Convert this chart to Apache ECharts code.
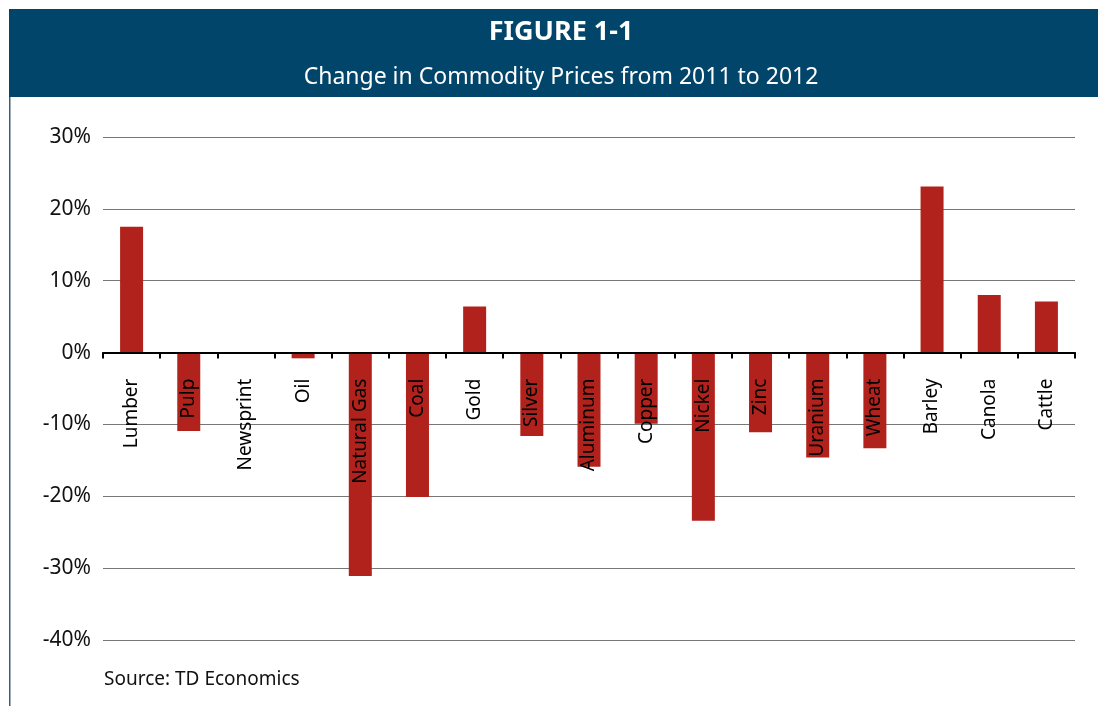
<!DOCTYPE html>
<html><head><meta charset="utf-8">
<script src="https://cdn.jsdelivr.net/npm/echarts@6/dist/echarts.min.js"></script>
<style>html,body{margin:0;padding:0;background:#fff;}#c{width:1098px;height:706px;}</style>
</head><body><div id="c"></div>
<script>
var categories = ["Lumber","Pulp","Newsprint","Oil","Natural Gas","Coal","Gold","Silver","Aluminum","Copper","Nickel","Zinc","Uranium","Wheat","Barley","Canola","Cattle"];
var changes = [17.5, -10.9, 0, -0.8, -31.1, -20.1, 6.4, -11.6, -15.9, -9.9, -23.4, -11.1, -14.6, -13.3, 23.1, 8.0, 7.1];
var titleText = "FIGURE 1-1";
var subtitleText = "Change in Commodity Prices from 2011 to 2012";
var sourceText = "Source: TD Economics";
var yMin = -40, yMax = 30;
var FONT = "'Noto Sans', sans-serif";
var H = 706, gTop = 137, gBottom = 66;
var gridH = H - gTop - gBottom;
var zeroOffset = -gridH * (0 - yMin) / (yMax - yMin);
var chart = echarts.init(document.getElementById('c'), null, {renderer:'canvas'});
chart.setOption({
  animation:false,
  backgroundColor:'#fff',
  graphic:[
    {type:'rect', shape:{x:9,y:9,width:1089,height:88}, style:{fill:'#02456a'}, z:0},
    {type:'rect', shape:{x:9,y:97,width:1.5,height:609}, style:{fill:'#3d5f75'}, z:0},
    {type:'text', x:561, y:32, style:{text:titleText, fill:'#fff', font:"bold 27px "+FONT, align:'center', verticalAlign:'middle'}},
    {type:'text', x:561, y:77, style:{text:subtitleText, fill:'#fff', font:"23px "+FONT, align:'center', verticalAlign:'middle'}},
    {type:'text', x:104, y:680, style:{text:sourceText, fill:'#111', font:"19px "+FONT, align:'left', verticalAlign:'middle'}}
  ],
  grid:{left:103, right:23, top:gTop, bottom:gBottom, containLabel:false, outerBoundsMode:'none'},
  xAxis:{
    type:'category', data:categories, z:10, position:'bottom', offset:zeroOffset,
    axisLine:{onZero:false, lineStyle:{color:'#000', width:2}},
    axisTick:{show:true, inside:false, length:6, lineStyle:{color:'#000', width:2}, alignWithLabel:false},
    axisLabel:{rotate:90, interval:0, margin:26, color:'#000', fontSize:19, fontFamily:FONT},
    splitLine:{show:false}
  },
  yAxis:{
    type:'value', min:yMin, max:yMax, interval:10,
    axisLine:{show:false}, axisTick:{show:false},
    axisLabel:{formatter:'{value}%', color:'#111', fontSize:21, fontFamily:FONT, margin:12},
    splitLine:{lineStyle:{color:'#777', width:1}}
  },
  series:[{type:'bar', data:changes, barWidth:23, itemStyle:{color:'#b2221c'}}]
});
</script></body></html>
